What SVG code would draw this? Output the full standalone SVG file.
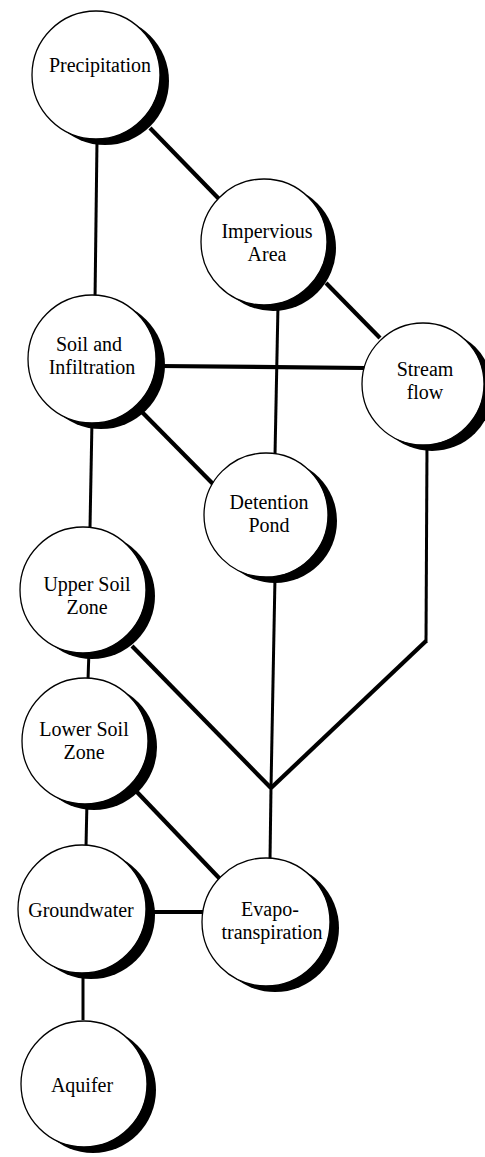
<svg xmlns="http://www.w3.org/2000/svg" width="485" height="1157" viewBox="0 0 485 1157">
<style>
.bg{fill:#fff}
.sh{fill:#000}
.c{fill:#fff;stroke:#000;stroke-width:1.3}
.t{font-family:"Liberation Serif","Times New Roman",serif;font-size:20px;fill:#000;text-anchor:middle}
.l3{stroke:#000;stroke-width:3;fill:none;stroke-linejoin:miter}
.l4{stroke:#000;stroke-width:4.2;fill:none;stroke-linejoin:miter}
</style>
<rect class="bg" x="0" y="0" width="485" height="1157"/>
<g id="connectors">
<line class="l3" x1="97" y1="140" x2="95" y2="300"/>
<line class="l4" x1="150" y1="128" x2="220" y2="200"/>
<line class="l4" x1="326" y1="283" x2="380" y2="338"/>
<line class="l3" x1="278" y1="305" x2="275" y2="455"/>
<line class="l4" x1="160" y1="366" x2="365" y2="368"/>
<line class="l4" x1="140" y1="410" x2="215" y2="486"/>
<line class="l3" x1="92" y1="420" x2="90" y2="528"/>
<polyline class="l3" points="427,445 426,643"/>
<polyline class="l4" points="426,641 271,788"/>
<line class="l3" x1="275" y1="577" x2="271" y2="788"/>
<line class="l4" x1="132" y1="646" x2="271" y2="788"/>
<line class="l3" x1="271" y1="788" x2="270" y2="860"/>
<line class="l3" x1="89" y1="650" x2="88" y2="680"/>
<line class="l3" x1="87" y1="800" x2="86" y2="847"/>
<line class="l4" x1="136" y1="791" x2="220" y2="879"/>
<line class="l4" x1="150" y1="912" x2="204" y2="912"/>
<line class="l3" x1="83" y1="975" x2="83" y2="1020"/>
</g>
<g id="precipitation">
<circle class="sh" cx="105" cy="81" r="64"/>
<circle class="c" cx="96" cy="75" r="64"/>
<text class="t" x="100" y="72">Precipitation</text>
</g>
<g id="impervious">
<circle class="sh" cx="273" cy="248" r="63"/>
<circle class="c" cx="264" cy="242" r="63"/>
<text class="t" x="267" y="238">Impervious</text>
<text class="t" x="267" y="261">Area</text>
</g>
<g id="soil">
<circle class="sh" cx="101" cy="365" r="64"/>
<circle class="c" cx="92" cy="359" r="64"/>
<text class="t" x="89" y="351">Soil and</text>
<text class="t" x="92" y="374">Infiltration</text>
</g>
<g id="streamflow">
<circle class="sh" cx="432" cy="390" r="61"/>
<circle class="c" cx="423" cy="384" r="61"/>
<text class="t" x="425" y="376">Stream</text>
<text class="t" x="425" y="399">flow</text>
</g>
<g id="detention">
<circle class="sh" cx="275" cy="521" r="62"/>
<circle class="c" cx="266" cy="515" r="62"/>
<text class="t" x="269" y="509">Detention</text>
<text class="t" x="269" y="532">Pond</text>
</g>
<g id="upper">
<circle class="sh" cx="92" cy="596" r="63"/>
<circle class="c" cx="83" cy="590" r="63"/>
<text class="t" x="87" y="591">Upper Soil</text>
<text class="t" x="87" y="614">Zone</text>
</g>
<g id="lower">
<circle class="sh" cx="94" cy="747" r="63"/>
<circle class="c" cx="85" cy="741" r="63"/>
<text class="t" x="84" y="736">Lower Soil</text>
<text class="t" x="84" y="759">Zone</text>
</g>
<g id="groundwater">
<circle class="sh" cx="91" cy="915" r="64"/>
<circle class="c" cx="82" cy="909" r="64"/>
<text class="t" x="81" y="917">Groundwater</text>
</g>
<g id="evapotranspiration">
<circle class="sh" cx="275" cy="928" r="64"/>
<circle class="c" cx="266" cy="922" r="64"/>
<text class="t" x="270" y="916">Evapo-</text>
<text class="t" x="272" y="939">transpiration</text>
</g>
<g id="aquifer">
<circle class="sh" cx="93" cy="1090" r="63"/>
<circle class="c" cx="84" cy="1084" r="63"/>
<text class="t" x="82" y="1092">Aquifer</text>
</g>
</svg>
